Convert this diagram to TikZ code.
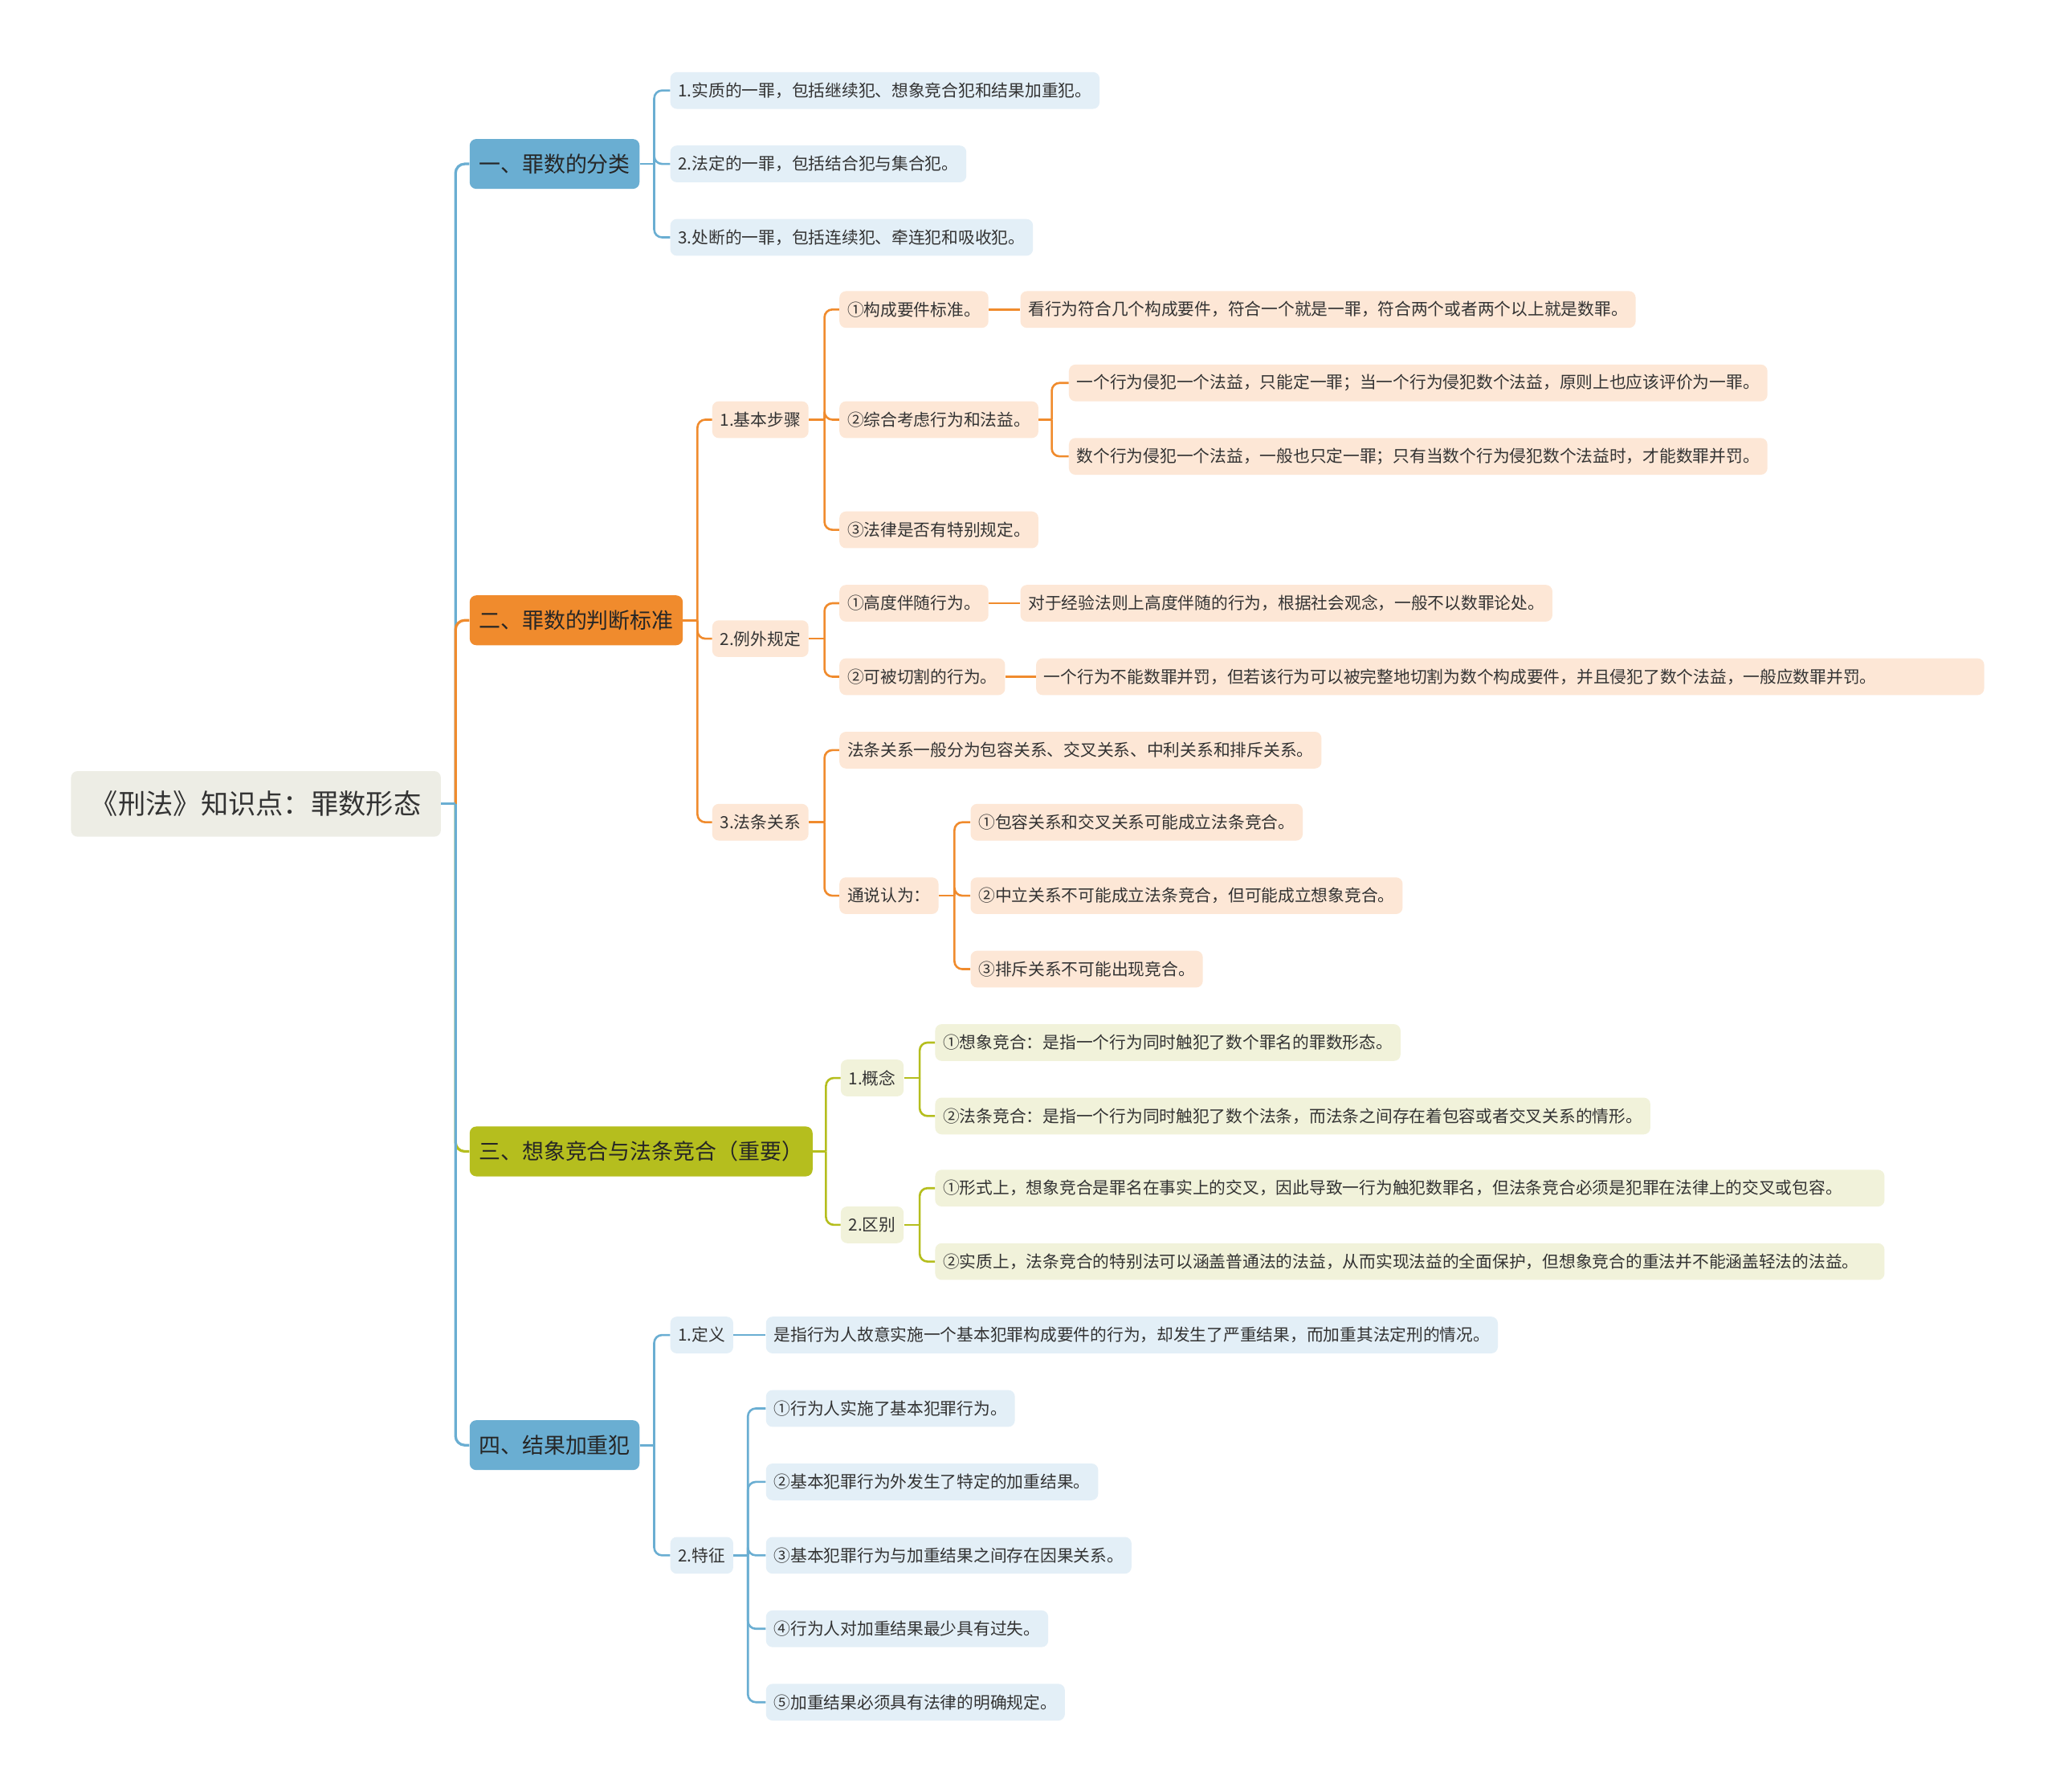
\documentclass[tikz,border=0pt]{standalone}
\usepackage{fontspec}
\newfontfamily\cjk{Noto Sans CJK SC}
\usetikzlibrary{positioning,calc}
\definecolor{bluemain}{HTML}{6AAED2}
\definecolor{blueleaf}{HTML}{E3EFF7}
\definecolor{orgmain}{HTML}{F08B2D}
\definecolor{orgleaf}{HTML}{FDE7D6}
\definecolor{olvmain}{HTML}{B5BE1E}
\definecolor{olvleaf}{HTML}{F1F2DA}
\definecolor{rootfill}{HTML}{EDEDE5}
\definecolor{inktext}{HTML}{333333}
\tikzset{
rootbox/.style={fill=rootfill,rounded corners=5pt,minimum height=50pt,inner xsep=15pt,inner ysep=0pt,
font=\cjk\fontsize{21}{24}\selectfont,text=inktext,anchor=west},
mainbox/.style={rounded corners=5pt,minimum height=38pt,inner xsep=7pt,inner ysep=0pt,
font=\cjk\fontsize{16.5}{19}\selectfont,text=black!85,anchor=west},
leaf/.style={rounded corners=5pt,minimum height=28pt,inner xsep=6pt,inner ysep=0pt,
font=\cjk\fontsize{12.7}{15}\selectfont,text=inktext,anchor=west},
bmain/.style={mainbox,fill=bluemain},
omain/.style={mainbox,fill=orgmain},
gmain/.style={mainbox,fill=olvmain},
bleaf/.style={leaf,fill=blueleaf},
oleaf/.style={leaf,fill=orgleaf},
gleaf/.style={leaf,fill=olvleaf},
padto/.style={text width=#1,align=left},
trunkB/.style={draw=bluemain,line width=2pt,rounded corners=7pt},
trunkO/.style={draw=orgmain,line width=2pt,rounded corners=7pt},
trunkG/.style={draw=olvmain,line width=2pt,rounded corners=7pt},
blink/.style={draw=bluemain,line width=1.6pt,rounded corners=6pt},
olink/.style={draw=orgmain,line width=1.6pt,rounded corners=6pt},
glink/.style={draw=olvmain,line width=1.6pt,rounded corners=6pt}
}

\begin{document}
\begin{tikzpicture}[x=1pt,y=-1pt]
\useasboundingbox (0,0) rectangle (1568,1366);
\fill[white] (0,0) rectangle (1568,1366);

% root and main topics
\node[rootbox] (root) at (54,613) {《刑法》知识点：罪数形态};
\node[bmain] (m1) at (358,125) {一、罪数的分类};
\node[omain] (m2) at (358,473) {二、罪数的判断标准};
\node[gmain] (m3) at (358,878) {三、想象竞合与法条竞合（重要）};
\node[bmain] (m4) at (358,1102) {四、结果加重犯};

% branch 1
\node[bleaf] (a1) at (511,69) {1.实质的一罪，包括继续犯、想象竞合犯和结果加重犯。};
\node[bleaf] (a2) at (511,125) {2.法定的一罪，包括结合犯与集合犯。};
\node[bleaf] (a3) at (511,181) {3.处断的一罪，包括连续犯、牵连犯和吸收犯。};

% branch 2
\node[oleaf] (b1) at (543,320) {1.基本步骤};
\node[oleaf] (b2) at (543,487) {2.例外规定};
\node[oleaf] (b3) at (543,627) {3.法条关系};
\node[oleaf] (b11) at (640,236) {①构成要件标准。};
\node[oleaf] (b11x) at (778,236) {看行为符合几个构成要件，符合一个就是一罪，符合两个或者两个以上就是数罪。};
\node[oleaf] (b12) at (640,320) {②综合考虑行为和法益。};
\node[oleaf] (b121) at (815,292) {一个行为侵犯一个法益，只能定一罪；当一个行为侵犯数个法益，原则上也应该评价为一罪。};
\node[oleaf] (b122) at (815,348) {数个行为侵犯一个法益，一般也只定一罪；只有当数个行为侵犯数个法益时，才能数罪并罚。};
\node[oleaf] (b13) at (640,404) {③法律是否有特别规定。};
\node[oleaf] (b21) at (640,460) {①高度伴随行为。};
\node[oleaf] (b21x) at (778,460) {对于经验法则上高度伴随的行为，根据社会观念，一般不以数罪论处。};
\node[oleaf] (b22) at (640,516) {②可被切割的行为。};
\node[oleaf,padto=711pt] (b22x) at (790,516) {一个行为不能数罪并罚，但若该行为可以被完整地切割为数个构成要件，并且侵犯了数个法益，一般应数罪并罚。};
\node[oleaf] (b31) at (640,572) {法条关系一般分为包容关系、交叉关系、中利关系和排斥关系。};
\node[oleaf] (b32) at (640,683) {通说认为：};
\node[oleaf] (b321) at (740,627) {①包容关系和交叉关系可能成立法条竞合。};
\node[oleaf] (b322) at (740,683) {②中立关系不可能成立法条竞合，但可能成立想象竞合。};
\node[oleaf] (b323) at (740,739) {③排斥关系不可能出现竞合。};

% branch 3
\node[gleaf] (c1) at (641,822) {1.概念};
\node[gleaf] (c2) at (641,934) {2.区别};
\node[gleaf] (c11) at (713,795) {①想象竞合：是指一个行为同时触犯了数个罪名的罪数形态。};
\node[gleaf] (c12) at (713,851) {②法条竞合：是指一个行为同时触犯了数个法条，而法条之间存在着包容或者交叉关系的情形。};
\node[gleaf,padto=712pt] (c21) at (713,906) {①形式上，想象竞合是罪名在事实上的交叉，因此导致一行为触犯数罪名，但法条竞合必须是犯罪在法律上的交叉或包容。};
\node[gleaf,padto=712pt] (c22) at (713,962) {②实质上，法条竞合的特别法可以涵盖普通法的法益，从而实现法益的全面保护，但想象竞合的重法并不能涵盖轻法的法益。};

% branch 4
\node[bleaf] (d1) at (511,1018) {1.定义};
\node[bleaf] (d1x) at (584,1018) {是指行为人故意实施一个基本犯罪构成要件的行为，却发生了严重结果，而加重其法定刑的情况。};
\node[bleaf] (d2) at (511,1186) {2.特征};
\node[bleaf] (d21) at (584,1074) {①行为人实施了基本犯罪行为。};
\node[bleaf] (d22) at (584,1130) {②基本犯罪行为外发生了特定的加重结果。};
\node[bleaf] (d23) at (584,1186) {③基本犯罪行为与加重结果之间存在因果关系。};
\node[bleaf] (d24) at (584,1242) {④行为人对加重结果最少具有过失。};
\node[bleaf] (d25) at (584,1298) {⑤加重结果必须具有法律的明确规定。};

% spine points
\coordinate (k0) at ([xshift=11pt]root.east);
\coordinate (k1) at ([xshift=11pt]m1.east);
\coordinate (k2) at ([xshift=11pt]m2.east);
\coordinate (k3) at ([xshift=10pt]m3.east);
\coordinate (k4) at ([xshift=11pt]m4.east);
\coordinate (kb1) at ([xshift=12pt]b1.east);
\coordinate (kb12) at ([xshift=10pt]b12.east);
\coordinate (kb2) at ([xshift=12pt]b2.east);
\coordinate (kb3) at ([xshift=12pt]b3.east);
\coordinate (kb32) at ([xshift=12pt]b32.east);
\coordinate (kc1) at ([xshift=12pt]c1.east);
\coordinate (kc2) at ([xshift=12pt]c2.east);
\coordinate (kd2) at ([xshift=11pt]d2.east);

% trunk
\draw[trunkB] (k0) |- (m1.west);
\draw[trunkO] (k0) |- (m2.west);
\draw[trunkG] (k0) |- (m3.west);
\draw[trunkB] (k0) |- (m4.west);
\draw[trunkB] (root.east) -- (k0);

% branch links
\draw[blink] (m1.east) -- (k1);
\foreach \c in {a1,a2,a3} \draw[blink] (k1) |- (\c.west);

\draw[olink] (m2.east) -- (k2);
\foreach \c in {b1,b2,b3} \draw[olink] (k2) |- (\c.west);
\draw[olink] (b1.east) -- (kb1);
\foreach \c in {b11,b12,b13} \draw[olink] (kb1) |- (\c.west);
\draw[olink] (b11.east) -- (b11x.west);
\draw[olink] (b12.east) -- (kb12);
\foreach \c in {b121,b122} \draw[olink] (kb12) |- (\c.west);
\draw[olink] (b2.east) -- (kb2);
\foreach \c in {b21,b22} \draw[olink] (kb2) |- (\c.west);
\draw[olink] (b21.east) -- (b21x.west);
\draw[olink] (b22.east) -- (b22x.west);
\draw[olink] (b3.east) -- (kb3);
\foreach \c in {b31,b32} \draw[olink] (kb3) |- (\c.west);
\draw[olink] (b32.east) -- (kb32);
\foreach \c in {b321,b322,b323} \draw[olink] (kb32) |- (\c.west);

\draw[glink] (m3.east) -- (k3);
\foreach \c in {c1,c2} \draw[glink] (k3) |- (\c.west);
\draw[glink] (c1.east) -- (kc1);
\foreach \c in {c11,c12} \draw[glink] (kc1) |- (\c.west);
\draw[glink] (c2.east) -- (kc2);
\foreach \c in {c21,c22} \draw[glink] (kc2) |- (\c.west);

\draw[blink] (m4.east) -- (k4);
\foreach \c in {d1,d2} \draw[blink] (k4) |- (\c.west);
\draw[blink] (d1.east) -- (d1x.west);
\draw[blink] (d2.east) -- (kd2);
\foreach \c in {d21,d22,d23,d24,d25} \draw[blink] (kd2) |- (\c.west);
\end{tikzpicture}
\end{document}
